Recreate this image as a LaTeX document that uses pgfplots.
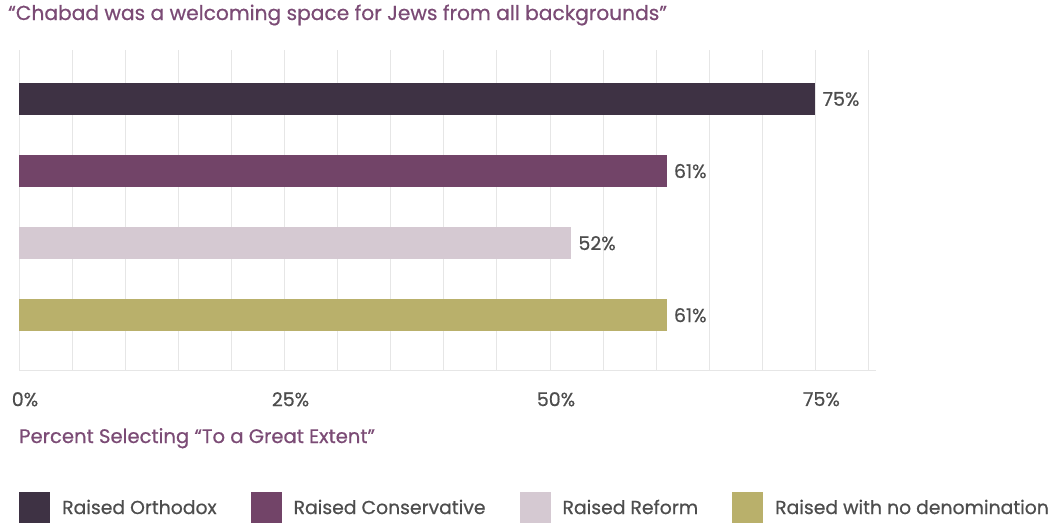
\documentclass[border=0pt]{standalone}
\usepackage{fontspec}
\setmainfont{Poppins}[FakeBold=0.6]
\usepackage{pgfplots}
\pgfplotsset{compat=1.18}
\definecolor{orth}{HTML}{3E3244}
\definecolor{cons}{HTML}{724468}
\definecolor{refm}{HTML}{D5C9D2}
\definecolor{nodn}{HTML}{B9B06B}
\definecolor{titlec}{HTML}{7B4B75}
\definecolor{textc}{HTML}{4D4D4D}
\definecolor{gridc}{HTML}{E6E6E6}
\begin{document}
\begin{tikzpicture}
\begin{axis}[
  at={(19pt,-370pt)}, anchor=south west,
  scale only axis, width=857pt, height=320pt,
  xmin=0, xmax=80.7, ymin=-0.76, ymax=3.68,
  axis y line=none, axis x line*=bottom,
  x axis line style={draw=gridc, line width=1pt},
  xtick={0,25,50,75}, xticklabels={0\%,25\%,50\%,75\%},
  minor xtick={5,10,...,80},
  xmajorgrids, xminorgrids,
  grid style={draw=gridc, line width=0.9pt},
  minor grid style={draw=gridc, line width=0.9pt},
  major tick length=0pt, minor tick length=0pt,
  tick style={draw=none},
  /pgf/number format/assume math mode=true,
  xticklabel style={anchor=north, inner sep=0pt, yshift=-22pt, xshift=6pt, text=textc, font=\fontsize{19}{19}\selectfont},
  xbar, bar width=32pt, bar shift=0pt,
  point meta=x,
  nodes near coords={\pgfmathprintnumber{\pgfplotspointmeta}\%},
  nodes near coords style={anchor=west, xshift=7pt, inner sep=0pt, text=textc, font=\fontsize{19}{19}\selectfont},
  legend columns=4,
  legend style={at={(0,-0.381)}, anchor=north west, draw=none, fill=none, inner sep=0pt,
    font=\fontsize{18.8}{18.8}\selectfont, text=textc,
    nodes={inner sep=0pt},
    /tikz/every odd column/.append style={column sep=12pt},
    /tikz/every even column/.append style={column sep=34pt}},
  legend image code/.code={\fill[#1] (0pt,-15.5pt) rectangle (31pt,15.5pt);},
]
\addplot[fill=orth, draw=none] coordinates {(75,3)};
\addlegendentry{Raised Orthodox}
\addplot[fill=cons, draw=none] coordinates {(61,2)};
\addlegendentry{Raised Conservative}
\addplot[fill=refm, draw=none] coordinates {(52,1)};
\addlegendentry{Raised Reform}
\addplot[fill=nodn, draw=none] coordinates {(61,0)};
\addlegendentry{Raised with no denomination}
\end{axis}
\node[anchor=base west, inner sep=0pt, text=titlec, font=\fontsize{20.2}{20.2}\selectfont] at (8pt,-20pt) {“Chabad was a welcoming space for Jews from all backgrounds”};
\node[anchor=base west, inner sep=0pt, text=titlec, font=\fontsize{19.6}{19.6}\selectfont] at (19pt,-443pt) {Percent Selecting “To a Great Extent”};
\pgfresetboundingbox
\useasboundingbox (0,0) rectangle (1055pt,-523pt);
\end{tikzpicture}
\end{document}
